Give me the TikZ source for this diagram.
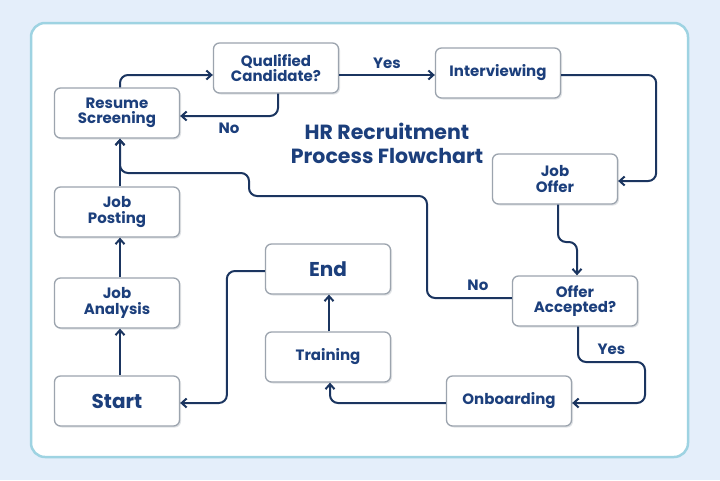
\documentclass[tikz,border=0pt]{standalone}
\usepackage{fontspec}
\setmainfont{Poppins}
\usepackage{tikz}
\usetikzlibrary{arrows.meta}
\usetikzlibrary{shadows}
\usetikzlibrary{positioning}

\definecolor{bgblue}{HTML}{E4EEFA}
\definecolor{frameteal}{HTML}{9ED3E2}
\definecolor{navy}{HTML}{1B3560}
\definecolor{inkblue}{HTML}{1C3F7C}
\definecolor{boxgray}{HTML}{9CA4AE}

\begin{document}
\begin{tikzpicture}[x=1pt,y=-1pt,
		procbox/.style={draw=boxgray, line width=1.3pt, fill=white, rounded corners=6pt,
			minimum width=125pt, minimum height=50pt, align=center, text=inkblue,
			font=\fontsize{15}{15.5}\selectfont\bfseries,
			drop shadow={shadow xshift=1.5pt, shadow yshift=-1.5pt, fill=boxgray, opacity=0.3}},
		bigbox/.style={procbox, font=\fontsize{20}{22}\selectfont\bfseries},
		flow/.style={draw=navy, line width=2pt, rounded corners=8pt,
			-{Straight Barb[length=5pt,width=9pt]}},
		lbl/.style={text=inkblue, font=\fontsize{15}{16}\selectfont\bfseries}]

		\useasboundingbox (0,0) rectangle (720,480);
		\fill[bgblue] (0,0) rectangle (720,480);
		\draw[frameteal, line width=2.5pt, fill=white, rounded corners=14pt] (31,23) rectangle (688,457);

		\node[procbox] (qual) at (276,68) {Qualified\\Candidate?};
		\node[procbox] (resume) at (117,113) {Resume\\Screening};
		\node[procbox] (interv) at (498,73) {Interviewing};
		\node[procbox] (offer) at (555,179) {Job\\Offer};
		\node[procbox] (posting) at (117,212) {Job\\Posting};
		\node[bigbox] (end) at (328,269) {End};
		\node[procbox] (analysis) at (117,303) {Job\\Analysis};
		\node[procbox] (accept) at (575,301) {Offer\\Accepted?};
		\node[procbox] (training) at (328,357) {Training};
		\node[bigbox] (start) at (117,401) {Start};
		\node[procbox] (onboard) at (509,401) {Onboarding};

		\node[text=inkblue, font=\fontsize{20.5}{24}\selectfont\bfseries, align=center] (title) at (387,143) {HR Recruitment\\Process Flowchart};

		\draw[flow] ([xshift=3pt]resume.north) |- ([yshift=-7pt]qual.west);
		\draw[flow] ([yshift=-7pt]qual.east) -- node[lbl, above=2pt] {Yes} ([yshift=-7pt]qual.east -| interv.west);
		\draw[flow] ([xshift=2pt]qual.south) |- node[lbl, pos=0.75, below=3pt] {No} ([yshift=-3pt]resume.east);
		\draw[flow] ([yshift=-2pt]interv.east) -- ++(95,0) |- ([yshift=-2pt]offer.east);
		\draw[flow] ([xshift=3pt]offer.south) -- (558,242) -- (577,242) -- ([xshift=2pt]accept.north);
		\draw[flow] ([yshift=3pt]accept.west) -- node[lbl, above=3pt, pos=0.4] {No} (427,298) -- (427,196)
			-- (249,196) -- (249,173) -- (120,173) -- ([xshift=3pt]resume.south);

		\draw[flow] ([xshift=3pt]start.north) -- ([xshift=3pt]analysis.south);
		\draw[flow] ([xshift=3pt]analysis.north) -- ([xshift=3pt]posting.south);
		\draw[flow] ([xshift=3pt]posting.north) -- ([xshift=3pt]resume.south);

		\draw[flow] ([xshift=3pt]accept.south) |- node[lbl, pos=0.75, above=3pt] {Yes} (645,362) |- ([yshift=-2pt]onboard.east);
		\draw[flow] ([yshift=-2pt]onboard.west) -| ([xshift=2pt]training.south);
		\draw[flow] ([xshift=1pt]training.north) -- ([xshift=1pt]end.south);
		\draw[flow] ([yshift=-2pt]end.west) -- ++(-38,0) |- ([yshift=-2pt]start.east);
\end{tikzpicture}
\end{document}
